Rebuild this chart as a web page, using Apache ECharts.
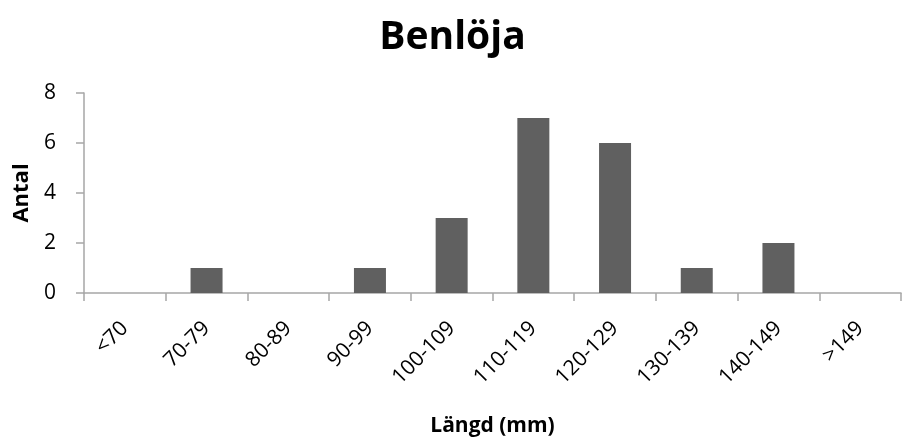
<!DOCTYPE html>
<html>
<head>
<meta charset="utf-8">
<script src="https://cdn.jsdelivr.net/npm/echarts@6/dist/echarts.min.js"></script>
<style>
  html, body { margin: 0; padding: 0; background: #fff; }
  #chart { width: 905px; height: 439px; }
</style>
</head>
<body>
<div id="chart"></div>
<script>
// Length classes (mm) and number of fish in each
const lengthClasses = ['<70', '70-79', '80-89', '90-99', '100-109', '110-119', '120-129', '130-139', '140-149', '>149'];
const counts = [0, 1, 0, 1, 3, 7, 6, 1, 2, 0];
const yTicks = [0, 2, 4, 6, 8];

const FONT = '"Open Sans", "Liberation Sans", sans-serif';
const axisGray = '#a6a6a6';

const chart = echarts.init(document.getElementById('chart'), null, { renderer: 'canvas' });
chart.setOption({
  animation: false,
  backgroundColor: '#ffffff',
  title: {
    text: 'Benlöja',
    left: 'center',
    top: 13,
    textStyle: { fontFamily: FONT, fontSize: 39, fontWeight: 'bold', color: '#000' }
  },
  grid: { left: 84, right: 4, top: 93, bottom: 146, containLabel: false },
  xAxis: {
    type: 'category',
    data: lengthClasses,
    name: 'Längd (mm)',
    nameLocation: 'middle',
    nameGap: 123,
    nameTextStyle: { fontFamily: FONT, fontSize: 21, fontWeight: 'bold', color: '#000' },
    axisLine: { show: true, lineStyle: { color: axisGray, width: 1.5 } },
    axisTick: { show: true, alignWithLabel: false, length: 8, lineStyle: { color: axisGray, width: 1.5 } },
    axisLabel: {
      rotate: 45,
      interval: 0,
      margin: 32,
      fontFamily: FONT,
      fontSize: 21,
      color: '#000'
    },
    splitLine: { show: false }
  },
  yAxis: {
    type: 'value',
    min: yTicks[0],
    max: yTicks[yTicks.length - 1],
    interval: 2,
    name: 'Antal',
    nameLocation: 'middle',
    nameGap: 50,
    nameRotate: 90,
    nameTextStyle: { fontFamily: FONT, fontSize: 22, fontWeight: 'bold', color: '#000' },
    axisLine: { show: true, lineStyle: { color: axisGray, width: 1.5 } },
    axisTick: { show: true, length: 8, lineStyle: { color: axisGray, width: 1.5 } },
    axisLabel: { margin: 28, fontFamily: FONT, fontSize: 21, color: '#000' },
    splitLine: { show: false }
  },
  series: [{
    type: 'bar',
    data: counts,
    barWidth: 32,
    itemStyle: { color: '#606060' }
  }]
});
</script>
</body>
</html>
